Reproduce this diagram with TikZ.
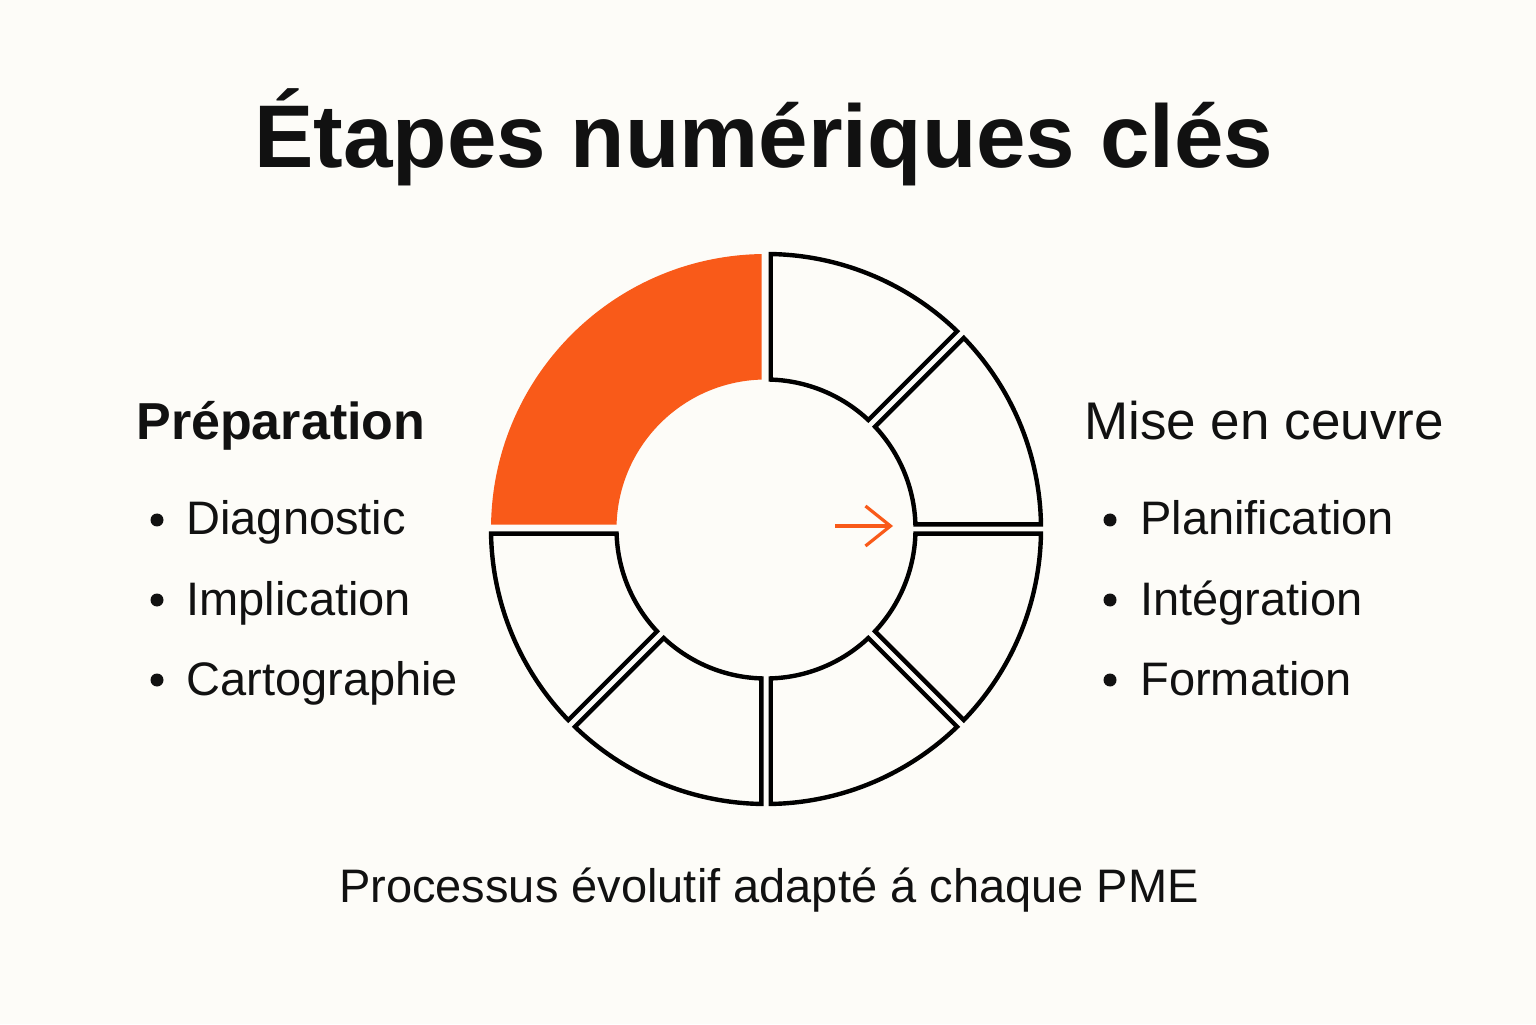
\documentclass[tikz,border=0pt]{standalone}
\usepackage{fontspec}
\setmainfont{Liberation Sans}
\usetikzlibrary{arrows.meta}
\definecolor{bg}{HTML}{FDFCF8}
\definecolor{accent}{HTML}{F95A19}
\definecolor{ink}{HTML}{111111}
\newcommand\ringseg[4]{%
  \pgfmathsetmacro\segao{asin(#3/275)}%
  \pgfmathsetmacro\segai{asin(#3/149.5)}%
  \path[#4] ({#1+\segai}:149.5) -- ({#1+\segao}:275)
    arc[start angle={#1+\segao}, end angle={#2-\segao}, radius=275]
    -- ({#2-\segai}:149.5)
    arc[start angle={#2-\segai}, end angle={#1+\segai}, radius=149.5] -- cycle;}
\begin{document}
\begin{tikzpicture}[x=0.5pt,y=0.5pt,
  seg/.style={draw=black,line width=2.2pt,line join=miter,fill=bg},
  hot/.style={fill=accent,draw=none},
  titletext/.style={font=\fontsize{44.5}{50}\selectfont\bfseries,text=ink,anchor=base,inner sep=0},
  headtext/.style={font=\fontsize{26.5}{30}\selectfont,text=ink,anchor=base west,inner sep=0},
  itemtext/.style={font=\fontsize{23.5}{28}\selectfont,text=ink,anchor=base west,inner sep=0},
  dot/.style={circle,fill=ink,inner sep=0,minimum size=6.5pt},
  foot/.style={font=\fontsize{23.5}{28}\selectfont,text=ink,anchor=base,inner sep=0}]
\fill[bg] (0,0) rectangle (1536,1024);
\useasboundingbox (0,0) rectangle (1536,1024);

\node[titletext] (title) at (764,856) {Étapes numériques clés};

\coordinate (c) at (766,495);
\begin{scope}[shift={(c)}]
  \ringseg{90}{180}{4.3}{hot}
  \ringseg{-180}{-135}{4.7}{seg}
  \ringseg{-135}{-90}{4.7}{seg}
  \ringseg{-90}{-45}{4.7}{seg}
  \ringseg{-45}{0}{4.7}{seg}
  \ringseg{0}{45}{4.7}{seg}
  \ringseg{45}{90}{4.7}{seg}
\end{scope}

\coordinate (arrS) at (835,498);
\coordinate (arrE) at (893,498);
\draw[accent,line width=1.6pt,-{Straight Barb[length=12.5pt,width=20pt,line width=1.6pt]}] (arrS) -- (arrE);

\node[headtext,font=\fontsize{26}{30}\selectfont\bfseries] (prep) at (136,584) {Préparation};
\node[dot] (d1) at (157,504) {};
\node[itemtext] (t1) at (186,489) {Diagnostic};
\node[dot] (d2) at (157,424) {};
\node[itemtext] (t2) at (186,409) {Implication};
\node[dot] (d3) at (157,344) {};
\node[itemtext] (t3) at (186,329) {Cartographie};

\node[headtext] (mise) at (1084,584) {Mise en ceuvre};
\node[dot] (e1) at (1110,504) {};
\node[itemtext] (u1) at (1140,489) {Planification};
\node[dot] (e2) at (1110,424) {};
\node[itemtext] (u2) at (1140,409) {Intégration};
\node[dot] (e3) at (1110,344) {};
\node[itemtext] (u3) at (1140,329) {Formation};

\node[foot] (bottom) at (769,122) {Processus évolutif adapté á chaque PME};
\end{tikzpicture}
\end{document}
